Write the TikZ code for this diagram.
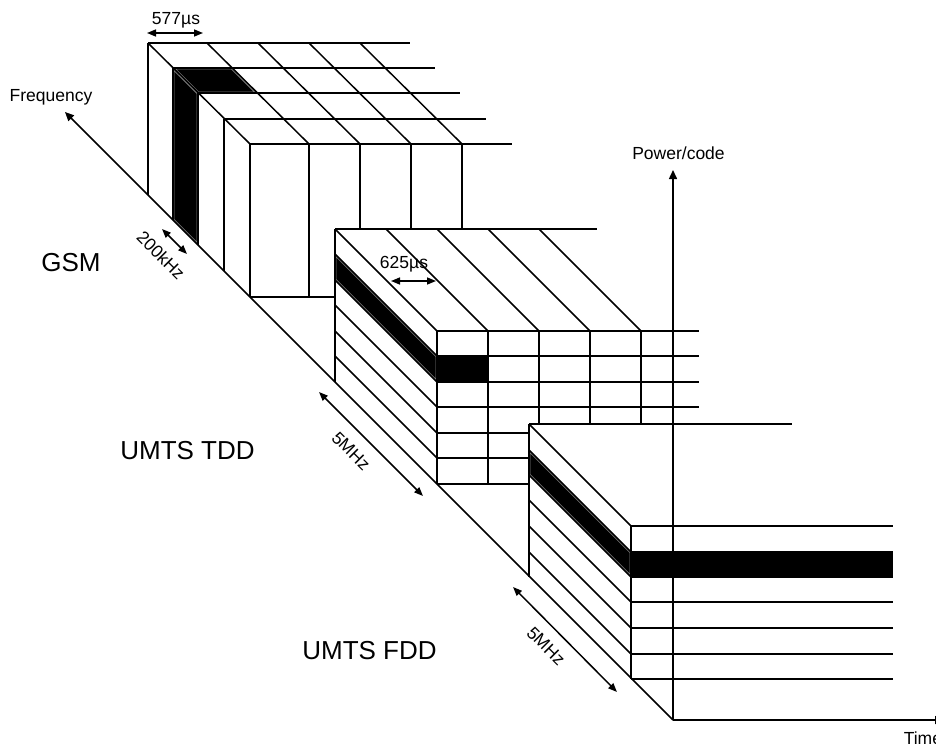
\documentclass[tikz,border=0pt]{standalone}
\usepackage{fontspec}
\setmainfont{Liberation Sans}
\usetikzlibrary{arrows.meta}
\newcommand\blackcell[1]{\begin{scope}\clip #1;\fill[black] #1;\draw[black!50,line width=2.9pt] #1;\end{scope}}
\begin{document}
\begin{tikzpicture}[x=1pt,y=-1pt, line width=1.5pt, line join=miter,
  tip/.style={-{Triangle[length=9pt,width=8pt]}},
  dim/.style={{Triangle[length=9pt,width=7pt]}-{Triangle[length=9pt,width=7pt]}},
  small/.style={font=\fontsize{17.5}{20}\selectfont, inner sep=0pt},
  big/.style={font=\fontsize{26}{30}\selectfont, inner sep=0pt}]
\useasboundingbox (0,0) rectangle (936,747);
\fill[white] (0,0) rectangle (936,747);

% ---------------- GSM block ----------------
\blackcell{(173,68) -- (198,93) -- (198,245) -- (173,220) -- cycle}
\blackcell{(173,68) -- (232,68) -- (257,93) -- (198,93) -- cycle}
\foreach \xx/\yy in {148/43, 173/68, 198/93, 224/119, 250/144} {
  \draw (\xx,\yy) -- (\xx+262,\yy);
  \draw (\xx,\yy) -- (\xx,\xx+47);
}
\draw (148,43) -- (250,144);
\foreach \t in {207,258,309,360} \draw (\t,43) -- (\t+102,144);
\foreach \t in {309,360,411,462} \draw (\t,144) -- (\t,297);
\draw (250,297) -- (462,297);

% ---------------- UMTS TDD block ----------------
\fill[white] (335,229) -- (597,229) -- (699,331) -- (699,484) -- (437,484) -- (335,382) -- cycle;
\blackcell{(335,254) -- (437,356) -- (437,382) -- (335,280) -- cycle}
\blackcell{(437,356) -- (488,356) -- (488,382) -- (437,382) -- cycle}
\draw (335,229) -- (335,382);
\foreach \a/\b in {229/331, 254/356, 280/382, 305/407, 331/433, 356/458}
  \draw (335,\a) -- (437,\b);
\draw (335,229) -- (597,229);
\foreach \j in {386,437,488,539} \draw (\j,229) -- (\j+102,331);
\foreach \b in {331,356,382,407,433,458,484} \draw (437,\b) -- (699,\b);
\foreach \j in {437,488,539,590,641} \draw (\j,331) -- (\j,484);

% ---------------- UMTS FDD block ----------------
\fill[white] (529,424) -- (792,424) -- (893,526) -- (893,679) -- (631,679) -- (529,577) -- cycle;
\blackcell{(529,450) -- (631,552) -- (631,577) -- (529,475) -- cycle}
\fill[black] (631,552) rectangle (893,577);
\draw (529,424) -- (529,577);
\draw (529,424) -- (792,424);
\foreach \a/\b in {424/526, 450/552, 475/577, 500/602, 526/628, 552/654}
  \draw (529,\a) -- (631,\b);
\foreach \b in {526,552,577,602,628,654,679} \draw (631,\b) -- (893,\b);
\draw (631,526) -- (631,679);

% ---------------- axes ----------------
\coordinate (O) at (673,720);
\coordinate (Pend) at (673,170);
\coordinate (Tend) at (944,720);
\coordinate (Fend) at (65,112);
\draw[tip] (O) -- (Pend);
\draw[tip] (O) -- (Tend);
\draw[tip] (O) -- (Fend);

% ---------------- dimension arrows ----------------
\draw[dim] (147,33) -- (203,33);
\draw[dim] (391,281) -- (436,281);
\draw[dim] (162,229) -- (187,254);
\draw[dim] (319,392) -- (423,496);
\draw[dim] (513,587) -- (617,692);

% ---------------- labels ----------------
\node[small, anchor=base] (t577) at (176,24.5) {577µs};
\node[small, anchor=base] (t625) at (404,268) {625µs};
\node[small, anchor=base] (freq) at (51,101) {Frequency};
\node[small, anchor=base] (pow) at (678.5,159) {Power/code};
\node[small, anchor=base west] (time) at (903,744) {Time};
\node[big, anchor=base] (gsm) at (71,271) {GSM};
\node[big, anchor=base] (tdd) at (187.5,459) {UMTS TDD};
\node[big, anchor=base] (fdd) at (369.5,659) {UMTS FDD};
\node[small, rotate=-45] (k200) at (161,255) {200kHz};
\node[small, rotate=-45] (m5a) at (351,451) {5MHz};
\node[small, rotate=-45] (m5b) at (546,646) {5MHz};
\end{tikzpicture}
\end{document}
